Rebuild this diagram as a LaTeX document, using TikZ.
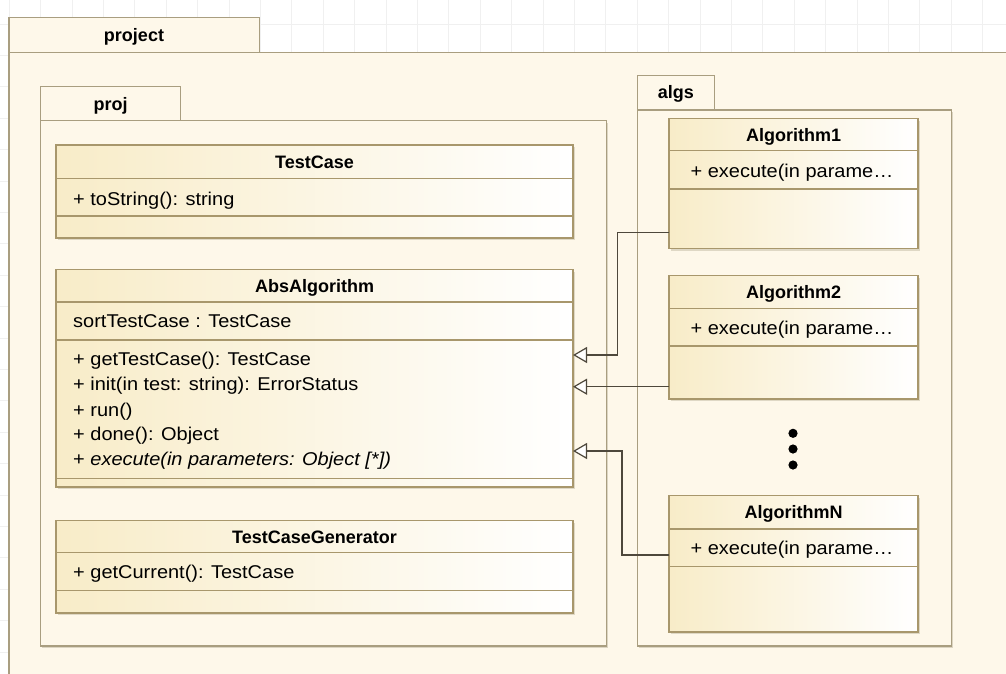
\documentclass[tikz,border=0pt]{standalone}
\usepackage{fontspec}
\setmainfont{Liberation Sans}
\newfontfamily\regf[FakeStretch=1.08]{Liberation Sans}
\usetikzlibrary{arrows.meta,shadows}
\definecolor{pkgfill}{HTML}{FEF8EA}
\definecolor{pkgline}{HTML}{A99E80}
\definecolor{clsline}{HTML}{A8976C}
\definecolor{clsleft}{HTML}{F8ECC8}
\definecolor{gridcol}{HTML}{F0F0F0}
\definecolor{shadowcol}{HTML}{DCD5C2}
\definecolor{conncol}{HTML}{4E483C}
\begin{document}
\begin{tikzpicture}[x=1pt,y=-1pt,
  gridline/.style={draw=gridcol, line width=1pt},
  pkg/.style={draw=pkgline, fill=pkgfill, line width=1.4pt},
  pkgshadow/.style={fill=shadowcol},
  classbox/.style={draw=clsline, line width=1.4pt, left color=clsleft, right color=white,
    inner sep=0pt, outer sep=0pt, anchor=north west,
    drop shadow={shadow xshift=2.2pt, shadow yshift=-2.2pt, fill=shadowcol, opacity=0.9}},
  sepline/.style={draw=clsline, line width=1.1pt},
  pkgname/.style={font=\bfseries\fontsize{18}{22}\selectfont, inner sep=0pt, anchor=base, text=black},
  cname/.style={font=\bfseries\fontsize{18}{22}\selectfont, inner sep=0pt, anchor=base, text=black},
  optext/.style={font=\regf\fontsize{18.5}{22}\selectfont, inner sep=0pt, anchor=base west, text=black},
  optc/.style={font=\regf\fontsize{18.5}{22}\selectfont, inner sep=0pt, anchor=base, text=black},
  gen/.style={draw=conncol, line width=1.3pt,
    -{Triangle[length=14pt, width=16pt, fill=white, line width=1.2pt]}}
]
\useasboundingbox (0,0) rectangle (1006,673);
\begin{scope}
\clip (0,0) rectangle (1006,673);
\fill[white] (0,0) rectangle (1006,673);
\foreach \k in {-1,...,32} \draw[gridline] (9.3+\k*31.4,0) -- (9.3+\k*31.4,673);
\foreach \k in {0,...,21} \draw[gridline] (0,24+\k*31.4) -- (1006,24+\k*31.4);
% project package
\draw[pkg] (9,52.3) rectangle (1030,700);
\draw[pkg] (9,17.3) rectangle (259.3,52.3);
\end{scope}
\node[pkgname] (projectlbl) at (134,41) {project};

% proj package
\fill[pkgshadow] (42.2,122.5) rectangle (608.2,648.2);
\draw[pkg] (40.7,120.7) rectangle (606.5,646);
\draw[pkg] (40.7,86.7) rectangle (180.7,120.7);
\node[pkgname] (projlbl) at (110.7,110.5) {proj};

% algs package
\fill[pkgshadow] (639.1,111.8) rectangle (953.4,647.9);
\draw[pkg] (637.3,110) rectangle (951.7,646);
\draw[pkg] (637.3,75.7) rectangle (714.3,110);
\node[pkgname] (algslbl) at (675.8,98.5) {algs};

% TestCase
\node[classbox, minimum width=517pt, minimum height=93pt] (tc) at (56,145) {};
\draw[sepline] (tc.west |- 0,178.5) -- (tc.east |- 0,178.5);
\draw[sepline] (tc.west |- 0,216) -- (tc.east |- 0,216);
\node[cname] (tcname) at (314.5,168) {TestCase};
\node[optext] (tcop1) at (73,205) {+ toString(): string};

% AbsAlgorithm
\node[classbox, minimum width=517pt, minimum height=217.5pt] (abs) at (56,269.5) {};
\draw[sepline] (abs.west |- 0,302) -- (abs.east |- 0,302);
\draw[sepline] (abs.west |- 0,340) -- (abs.east |- 0,340);
\draw[sepline] (abs.west |- 0,478.3) -- (abs.east |- 0,478.3);
\node[cname] (absname) at (314.5,292) {AbsAlgorithm};
\node[optext] (absattr) at (73,327.5) {sortTestCase : TestCase};
\node[optext] (absop1) at (73,365) {+ getTestCase(): TestCase};
\node[optext] (absop2) at (73,390.5) {+ init(in test: string): ErrorStatus};
\node[optext] (absop3) at (73,416) {+ run()};
\node[optext] (absop4) at (73,440.5) {+ done(): Object};
\node[optext] (absop5) at (73,465.5) {+ \itshape execute(in parameters: Object [*])};

% TestCaseGenerator
\node[classbox, minimum width=517pt, minimum height=92.5pt] (tcg) at (56,520.5) {};
\draw[sepline] (tcg.west |- 0,552.5) -- (tcg.east |- 0,552.5);
\draw[sepline] (tcg.west |- 0,590.5) -- (tcg.east |- 0,590.5);
\node[cname] (tcgname) at (314.5,543) {TestCaseGenerator};
\node[optext] (tcgop1) at (73,578.5) {+ getCurrent(): TestCase};

% Algorithm1
\node[classbox, minimum width=249pt, minimum height=130pt] (alg1) at (669,118.5) {};
\draw[sepline] (alg1.west |- 0,150.7) -- (alg1.east |- 0,150.7);
\draw[sepline] (alg1.west |- 0,189) -- (alg1.east |- 0,189);
\node[cname] (alg1name) at (793.5,141) {Algorithm1};
\node[optc] (alg1op) at (792,177.5) {+ execute(in parame…};

% Algorithm2
\node[classbox, minimum width=249pt, minimum height=123.5pt] (alg2) at (669,275.5) {};
\draw[sepline] (alg2.west |- 0,308.7) -- (alg2.east |- 0,308.7);
\draw[sepline] (alg2.west |- 0,346) -- (alg2.east |- 0,346);
\node[cname] (alg2name) at (793.5,298.5) {Algorithm2};
\node[optc] (alg2op) at (792,334.5) {+ execute(in parame…};

% AlgorithmN
\node[classbox, minimum width=249pt, minimum height=136.5pt] (algn) at (669,495.5) {};
\draw[sepline] (algn.west |- 0,529) -- (algn.east |- 0,529);
\draw[sepline] (algn.west |- 0,566.5) -- (algn.east |- 0,566.5);
\node[cname] (algnname) at (793.5,518.5) {AlgorithmN};
\node[optc] (algnop) at (792,554.5) {+ execute(in parame…};

% dots
\fill[black] (793,433.3) circle (4.6);
\fill[black] (793,449) circle (4.6);
\fill[black] (793,465) circle (4.6);

% generalizations
\draw[gen] (alg1.west |- 0,232.7) -| (617.5,355) -- (abs.east |- 0,355);
\draw[gen] (alg2.west |- 0,386.7) -- (abs.east |- 0,386.7);
\draw[gen] (algn.west |- 0,555) -| (622,451) -- (abs.east |- 0,451);
\end{tikzpicture}
\end{document}
